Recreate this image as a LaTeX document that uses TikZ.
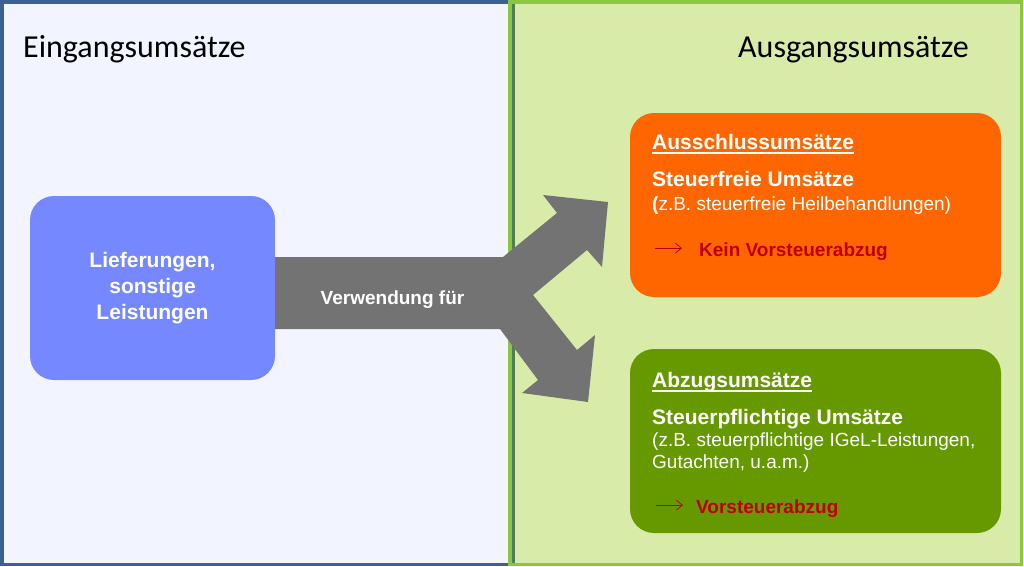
\documentclass[tikz,border=0pt]{standalone}
\usepackage{fontspec}
\setmainfont{Liberation Sans}
\newfontfamily\calibri{Carlito}
\usetikzlibrary{arrows.meta}
\definecolor{rahmenblau}{HTML}{3C6090}
\definecolor{rahmengruen}{HTML}{8CC63E}
\definecolor{trenn}{HTML}{4D7E5C}
\definecolor{flaecheblau}{HTML}{F2F4FF}
\definecolor{flaechegruen}{HTML}{D9EBA9}
\definecolor{kastenblau}{HTML}{7588FF}
\definecolor{kastenorange}{HTML}{FF6600}
\definecolor{kastengruen}{HTML}{669900}
\definecolor{pfeilgrau}{HTML}{737373}
\definecolor{dunkelrot}{HTML}{C00000}

\begin{document}
\begin{tikzpicture}[x=1pt, y=-1pt,
    kasten/.style={rounded corners=24pt, inner sep=0pt, minimum width=371pt, minimum height=184pt},
    txt/.style={inner sep=0pt, anchor=base west, text=white},
    kopf/.style={txt, text=black, font=\calibri\fontsize{32}{38}\selectfont},
    titel/.style={txt, font=\bfseries\fontsize{21}{25}\selectfont},
    klein/.style={txt, font=\fontsize{19}{22}\selectfont},
    folge/.style={txt, text=dunkelrot, font=\bfseries\fontsize{19}{22}\selectfont},
    pfeil/.style={dunkelrot, line width=0.8pt, -{Straight Barb[length=6pt, width=10pt]}}]
    \useasboundingbox (0,0) rectangle (1024,566);
    % Flaechen
    \filldraw[fill=flaecheblau, draw=rahmenblau, line width=3.5pt](1.75,1.75) rectangle (514,564.25);
    \filldraw[fill=flaechegruen, draw=rahmengruen, line width=3.5pt](509.75,1.75) rectangle (1021.5,564.25);
    \draw[trenn, line width=3pt](513.5,3.5)--(513.5,562.5);
    \node[kopf] (ein) at (23,57) {Eingangsumsätze};
    \node[kopf] (ausg) at (738,57) {Ausgangsumsätze};
    % Eingang
    \node[rounded corners=24pt, fill=kastenblau, minimum width=245pt, minimum height=184pt, align=center, text=white,
        font=\bfseries\fontsize{21}{26}\selectfont] (lief) at (152.5,288) {Lieferungen,\\sonstige\\Leistungen};
    \fill[pfeilgrau](lief.east |- 0,257)--(503,257)--(557,213)--(543,195)--(608,202)--(602,267)--(587,250)--(533,295)
        --(577,350)--(595,335)--(588,402)--(522,393)--(538,380)--(500,329)--(lief.east |- 0,329)--cycle;
    \node[txt, anchor=base, font=\bfseries\fontsize{19}{22}\selectfont] (verw) at (392.5,304) {Verwendung für};
    % Ausschlussumsaetze
    \node[kasten, fill=kastenorange] (aus) at (815.5,205) {};
    \node[titel] (aust) at (652,149) {Ausschlussumsätze};
    \draw[white, line width=2pt]([yshift=-4pt]aust.base west)--([yshift=-4pt]aust.base east);
    \node[titel] (ausb) at (652,186) {Steuerfreie Umsätze};
    \node[klein] (ausk) at (652,210) {{\bfseries(}z.B. steuerfreie Heilbehandlungen)};
    \node[folge] (kein) at (699,256) {Kein Vorsteuerabzug};
    \coordinate (k0) at ([xshift=-44pt, yshift=3pt]kein.west);
    \draw[pfeil](k0)--([xshift=-17pt, yshift=3pt]kein.west);
    % Abzugsumsaetze
    \node[kasten, fill=kastengruen] (abz) at (815.5,441) {};
    \node[titel] (abzt) at (652,387) {Abzugsumsätze};
    \draw[white, line width=2pt]([yshift=-4pt]abzt.base west)--([yshift=-4pt]abzt.base east);
    \node[titel] (abzb) at (652,424) {Steuerpflichtige Umsätze};
    \node[klein] (abzk) at (652,446) {(z.B. steuerpflichtige IGeL-Leistungen,};
    \node[klein] (abzg) at (652,468) {Gutachten, u.a.m.)};
    \node[folge] (vor) at (696,513) {Vorsteuerabzug};
    \coordinate (v0) at ([xshift=-40pt, yshift=3pt]vor.west);
    \draw[pfeil](v0)--([xshift=-13pt, yshift=3pt]vor.west);
\end{tikzpicture}
\end{document}
